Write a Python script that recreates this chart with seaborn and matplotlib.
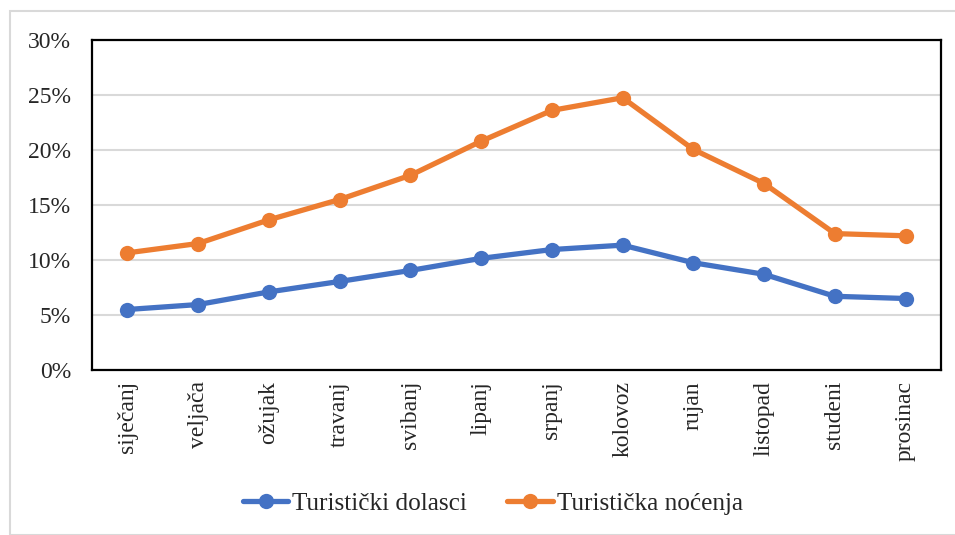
import pandas as pd
import matplotlib.pyplot as plt
import seaborn as sns
from matplotlib.patches import Rectangle
from matplotlib.ticker import PercentFormatter

months = ["siječanj", "veljača", "ožujak", "travanj", "svibanj", "lipanj",
          "srpanj", "kolovoz", "rujan", "listopad", "studeni", "prosinac"]
dolasci = [5.5, 5.95, 7.1, 8.05, 9.05, 10.15, 10.95, 11.35, 9.75, 8.7, 6.7, 6.5]
nocenja = [10.65, 11.5, 13.65, 15.5, 17.7, 20.8, 23.6, 24.75, 20.05, 16.95, 12.4, 12.2]
series = ["Turistički dolasci", "Turistička noćenja"]
colors = ["#4472C4", "#ED7D31"]

df = pd.DataFrame({
    "mjesec": months * 2,
    "udio": dolasci + nocenja,
    "serija": [series[0]] * 12 + [series[1]] * 12,
})

sns.set_style("white")
plt.rcParams["font.family"] = ["Liberation Serif", "DejaVu Serif"]

fig = plt.figure(figsize=(9.55, 5.35), dpi=100)
# light grey chart border like the Excel original
fig.patches.append(Rectangle((10 / 955, 0), 1, 1 - 11 / 535, transform=fig.transFigure,
                             fill=False, edgecolor="#D9D9D9", linewidth=1.5))
ax = fig.add_axes([92 / 955, 1 - 370 / 535, (941 - 92) / 955, (370 - 40) / 535])

sns.lineplot(data=df, x="mjesec", y="udio", hue="serija", palette=colors,
             marker="o", markersize=11, markeredgewidth=0, linewidth=3.8,
             sort=False, ax=ax)

ax.set_ylim(0, 30)
ax.set_yticks(range(0, 31, 5))
ax.yaxis.set_major_formatter(PercentFormatter(decimals=0))
ax.set_xlim(-0.5, 11.5)
ax.grid(axis="y", color="#D9D9D9", linewidth=1.5)
ax.set_axisbelow(True)
for s in ax.spines.values():
    s.set_visible(True)
    s.set_color("black")
    s.set_linewidth(1.6)
ax.set_xlabel("")
ax.set_ylabel("")
ax.tick_params(axis="x", labelsize=17, rotation=90, length=0, pad=8)
ax.tick_params(axis="y", labelsize=17, length=0, pad=15)

handles, labels = ax.get_legend_handles_labels()
ax.legend_.remove()
fig.legend(handles, labels, loc="center", bbox_to_anchor=(0.516, 0.058), ncol=2,
           frameon=False, fontsize=18.2, handlelength=1.8, handletextpad=0.15,
           columnspacing=1.6)

fig.savefig("out.png", dpi=100)
